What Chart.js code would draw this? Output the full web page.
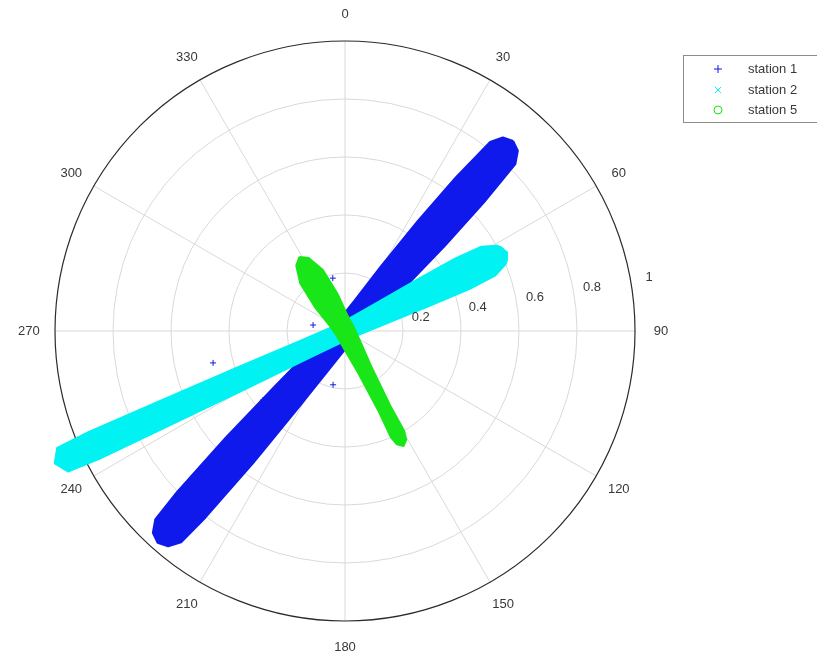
<!DOCTYPE html>
<html>
<head>
<meta charset="utf-8">
<script src="https://cdn.jsdelivr.net/npm/chart.js@4/dist/chart.umd.min.js"></script>
<style>
html, body { margin: 0; padding: 0; background: #fff; }
#wrap { width: 817px; height: 659px; position: relative; }
</style>
</head>
<body>
<div id="wrap"><canvas id="polarChart"></canvas></div>
<script>
// polar data: theta in degrees (0 at top, clockwise), rho 0..1
var stationNames = ["station 1", "station 2", "station 5"];

// outline of each station's point cloud
var s1Theta = [41.5, 43.8, 45.6, 47.2, 49.5, 53.9, 65.7, 131.5, 197.3, 211.1, 214.8, 216.8, 217.8, 219.4, 221.5,
               223.6, 225.2, 226.2, 228.2, 231.9, 245.7, 311.5, 17.3, 29.1, 33.5, 35.8, 37.5, 39.2, 41.5];
var s1Rho   = [0.875, 0.861, 0.822, 0.653, 0.454, 0.256, 0.110, 0.04, 0.110, 0.305, 0.554, 0.803, 0.922, 0.961, 0.975,
               0.961, 0.922, 0.803, 0.554, 0.305, 0.110, 0.04, 0.110, 0.256, 0.454, 0.653, 0.822, 0.861, 0.875];

var s2Theta = [64, 66.3, 67.3, 69.7, 71.3, 73.5, 78.9, 154, 233.1, 239.8, 241.8, 242.5, 243.1, 245.5,
               247.9, 248.5, 249.2, 251.2, 257.9, 334, 49.1, 54.5, 56.7, 58.3, 60.7, 61.7, 64];
var s2Rho   = [0.62, 0.61, 0.601, 0.553, 0.454, 0.304, 0.155, 0.03, 0.154, 0.402, 0.701, 0.951, 1.071, 1.10,
               1.071, 0.951, 0.701, 0.402, 0.154, 0.03, 0.155, 0.304, 0.454, 0.553, 0.601, 0.61, 0.62];

var s5Theta = [328.4, 333.5, 340.0, 349.0, 9.6, 58.4, 126.4, 143.5, 148.8, 149.4, 150.6, 153,
               155.4, 156.6, 157.2, 162.5, 179.6, 238.4, 287.2, 307.8, 316.8, 323.3, 328.4];
var s5Rho   = [0.30, 0.281, 0.225, 0.128, 0.053, 0.033, 0.067, 0.152, 0.301, 0.401, 0.430, 0.445,
               0.430, 0.401, 0.301, 0.152, 0.067, 0.033, 0.053, 0.128, 0.225, 0.281, 0.30];

// a few stray points of station 1
var s1OutTheta = [347, 280.6, 192.5, 229.9, 256.4];
var s1OutRho   = [0.187, 0.112, 0.19, 0.37, 0.468];

var angleTicks = [0, 30, 60, 90, 120, 150, 180, 210, 240, 270, 300, 330];
var rhoTicks = [0.2, 0.4, 0.6, 0.8, 1];
var rhoTickLabels = ["0.2", "0.4", "0.6", "0.8", "1"];

var colors = ["rgb(15,25,235)", "rgb(0,242,242)", "rgb(25,230,25)"];
var fontFamily = "'Liberation Sans', Arial, sans-serif";

function polarPoints(theta, rho) {
  return theta.map(function(t, i) {
    var a = t * Math.PI / 180;
    return {x: rho[i] * Math.sin(a), y: rho[i] * Math.cos(a)};
  });
}

function bandDataset(i, theta, rho, order) {
  return {
    label: stationNames[i],
    data: polarPoints(theta, rho),
    showLine: true,
    fill: 'shape',
    backgroundColor: colors[i],
    borderColor: colors[i],
    borderWidth: 2,
    borderJoinStyle: 'round',
    tension: 0,
    pointRadius: 0,
    clip: false,
    order: order
  };
}

function toPixel(chart, theta, rho) {
  var a = theta * Math.PI / 180;
  return {
    x: chart.scales.x.getPixelForValue(rho * Math.sin(a)),
    y: chart.scales.y.getPixelForValue(rho * Math.cos(a))
  };
}

var polarGrid = {
  id: 'polarGrid',
  beforeDatasetsDraw: function(chart) {
    var ctx = chart.ctx;
    var c = toPixel(chart, 0, 0);
    ctx.save();
    ctx.strokeStyle = '#d9d9d9';
    ctx.lineWidth = 1;
    angleTicks.forEach(function(t) {
      var p = toPixel(chart, t, 1);
      ctx.beginPath();
      ctx.moveTo(c.x, c.y);
      ctx.lineTo(p.x, p.y);
      ctx.stroke();
    });
    rhoTicks.forEach(function(r, i) {
      var rx = chart.scales.x.getPixelForValue(r) - c.x;
      var ry = c.y - chart.scales.y.getPixelForValue(r);
      ctx.beginPath();
      ctx.ellipse(c.x, c.y, rx, ry, 0, 0, Math.PI * 2);
      if (i === rhoTicks.length - 1) {
        ctx.strokeStyle = '#2b2b2b';
        ctx.lineWidth = 1.2;
      }
      ctx.stroke();
    });
    ctx.restore();
  },
  afterDatasetsDraw: function(chart) {
    var ctx = chart.ctx;
    ctx.save();
    ctx.fillStyle = '#383838';
    ctx.font = '13px ' + fontFamily;
    ctx.textAlign = 'center';
    ctx.textBaseline = 'middle';
    angleTicks.forEach(function(t) {
      var p = toPixel(chart, t, 1.09);
      ctx.fillText(String(t), p.x, p.y);
    });
    rhoTicks.forEach(function(r, i) {
      var p = toPixel(chart, 80, r + 0.065);
      ctx.fillText(rhoTickLabels[i], p.x, p.y);
    });

    // legend box, matlab style
    ctx.strokeStyle = '#8c8c8c';
    ctx.lineWidth = 1;
    ctx.strokeRect(683.5, 55.5, 160, 67);
    var rows = [69, 90, 110];
    var mx = 718;
    ctx.textAlign = 'left';
    stationNames.forEach(function(name, i) {
      var y = rows[i];
      ctx.strokeStyle = colors[i];
      ctx.beginPath();
      if (i === 0) {
        ctx.moveTo(mx - 4, y); ctx.lineTo(mx + 4, y);
        ctx.moveTo(mx, y - 4); ctx.lineTo(mx, y + 4);
      } else if (i === 1) {
        ctx.moveTo(mx - 3, y - 3); ctx.lineTo(mx + 3, y + 3);
        ctx.moveTo(mx + 3, y - 3); ctx.lineTo(mx - 3, y + 3);
      } else {
        ctx.arc(mx, y, 4, 0, Math.PI * 2);
      }
      ctx.stroke();
      ctx.fillText(name, 748, y);
    });
    ctx.restore();
  }
};

var chart = new Chart(document.getElementById('polarChart'), {
  type: 'scatter',
  data: {
    datasets: [
      bandDataset(0, s1Theta, s1Rho, 3),
      bandDataset(1, s2Theta, s2Rho, 2),
      bandDataset(2, s5Theta, s5Rho, 1),
      {
        label: 'station 1 stray',
        data: polarPoints(s1OutTheta, s1OutRho),
        pointStyle: 'cross',
        pointRadius: 3,
        borderColor: colors[0],
        borderWidth: 1,
        clip: false,
        order: 4
      }
    ]
  },
  options: {
    responsive: true,
    maintainAspectRatio: false,
    animation: false,
    layout: {padding: 10},
    // center at (345,331), 290px per unit of rho
    scales: {
      x: {type: 'linear', min: -1.1552, max: 1.5931, display: false},
      y: {type: 'linear', min: -1.0966, max: 1.1069, display: false}
    },
    plugins: {
      legend: {display: false},
      tooltip: {enabled: false}
    }
  },
  plugins: [polarGrid]
});
</script>
</body>
</html>
